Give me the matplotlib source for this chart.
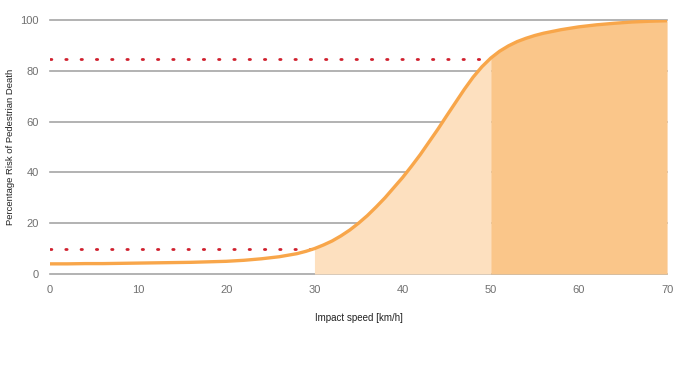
import numpy as np
import matplotlib
matplotlib.use("Agg")
import matplotlib.pyplot as plt

# impact speed (km/h) and risk of pedestrian death (%)
speed = [0, 2, 4, 6, 8, 10, 12, 14, 16, 18, 20, 22, 24, 26, 28, 29, 30, 31, 32,
         33, 34, 35, 36, 37, 38, 39, 40, 41, 42, 43, 44, 45, 46, 47, 48, 49, 50,
         51, 52, 53, 54, 55, 56, 58, 60, 62, 64, 66, 68, 70]
risk = [4.0, 4.0, 4.1, 4.1, 4.2, 4.3, 4.4, 4.5, 4.6, 4.8, 5.0, 5.4, 6.0, 6.8,
        8.0, 8.9, 10.0, 11.4, 13.0, 15.0, 17.3, 20.0, 23.0, 26.4, 30.0, 34.0,
        38.0, 42.4, 47.0, 52.0, 57.0, 62.3, 67.5, 72.7, 77.5, 81.6, 85.0, 87.7,
        89.8, 91.5, 92.8, 93.9, 94.8, 96.2, 97.3, 98.1, 98.7, 99.2, 99.5, 99.7]

# reference lines: (speed, risk)
ref_low = (30, 10)
ref_high = (49.5, 84.5)

xticks = [0, 10, 20, 30, 40, 50, 60, 70]
yticks = [0, 20, 40, 60, 80, 100]

plt.rcParams['font.family'] = ['Liberation Sans', 'DejaVu Sans']

fig = plt.figure(figsize=(6.8, 3.68), dpi=100)
ax = fig.add_axes([0.0735, 0.2554, 0.9075, 0.6903])

s = np.array(speed)
r = np.array(risk)

# grid
for yv in yticks:
    ax.axhline(yv, color='#a6a6a6', lw=1.2, zorder=0, clip_on=False)

# shaded zones
m1 = (s >= 30) & (s <= 50)
m2 = (s >= 50) & (s <= 70)
ax.fill_between(s[m1], 0, r[m1], color='#fde0bf', lw=0, zorder=1)
ax.fill_between(s[m2], 0, r[m2], color='#fac68a', lw=0, zorder=1)

# dotted red reference lines
ax.plot([0, ref_low[0]], [ref_low[1], ref_low[1]], color='#d0202e',
        ls=(0, (0.5, 5.0)), lw=2.0, dash_capstyle='round', zorder=2)
ax.plot([0, ref_high[0]], [ref_high[1], ref_high[1]], color='#d0202e',
        ls=(0, (0.5, 5.0)), lw=2.0, dash_capstyle='round', zorder=2)

# risk curve
ax.plot(s, r, color='#f8a64a', lw=2.4, solid_capstyle='round',
        solid_joinstyle='round', zorder=3)

ax.set_xlim(0, 70)
ax.set_ylim(0, 100)
ax.set_xticks(xticks)
ax.set_yticks(yticks)
ax.tick_params(length=0, labelsize=8, labelcolor='#707070', pad=8)
for sp in ax.spines.values():
    sp.set_visible(False)

ax.set_xlabel("Impact speed [km/h]", fontsize=7, color='#222222', labelpad=13)
ax.set_ylabel("Percentage Risk of Pedestrian Death", fontsize=6.8, color='#222222')
ax.yaxis.set_label_coords(-0.056, 0.5)

fig.savefig("out.png", dpi=100)
